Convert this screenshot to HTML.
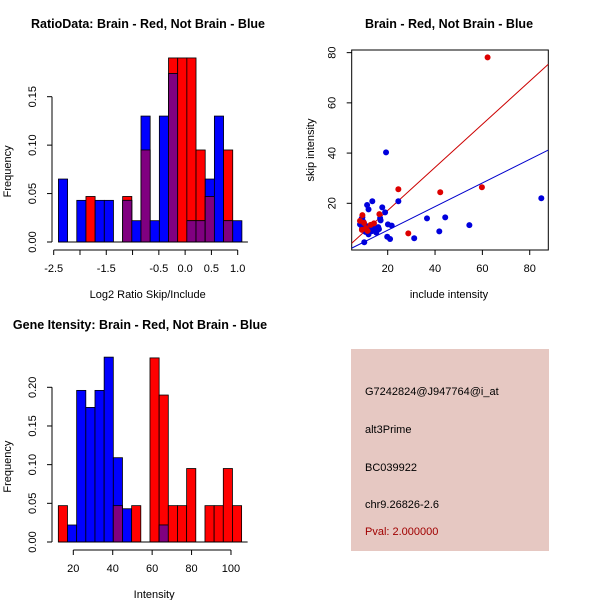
<!DOCTYPE html>
<html><head><meta charset="utf-8"><style>
html,body{margin:0;padding:0;background:#fff;}
svg{display:block;font-family:"Liberation Sans",sans-serif;}
</style></head><body>
<svg id="chart" width="600" height="600" viewBox="0 0 600 600" xmlns="http://www.w3.org/2000/svg">
<rect x="0" y="0" width="600" height="600" fill="#fff"/>
<text x="148" y="28" text-anchor="middle" font-size="12.5" font-weight="bold">RatioData: Brain - Red, Not Brain - Blue</text>
<text x="449" y="28" text-anchor="middle" font-size="12.5" font-weight="bold">Brain - Red, Not Brain - Blue</text>
<text x="140" y="329" text-anchor="middle" font-size="12.5" font-weight="bold">Gene Itensity: Brain - Red, Not Brain - Blue</text>
<g id="g1"></g>
<g id="g2"></g>
<g id="g3"></g>
<g>
<rect x="351" y="349" width="198" height="202" fill="#e6c8c2"/>
<text x="365" y="395" font-size="11">G7242824@J947764@i_at</text>
<text x="365" y="433" font-size="11">alt3Prime</text>
<text x="365" y="471" font-size="11">BC039922</text>
<text x="365" y="508" font-size="11">chr9.26826-2.6</text>
<text x="365" y="535" font-size="11" fill="#a00000">Pval: 2.000000</text>
</g>
</svg>
<script>
// ---- Ratio histogram data ----
const ratioBinStart = -2.41;
const ratioBinWidth = 0.1745;
const ratioBlue = [0.065,0,0.043,0,0.043,0.043,0,0.043,0.022,0.13,0.022,0.13,0.174,0,0.022,0.022,0.065,0.13,0.022,0.022];
const ratioRed  = [0,0,0,0.047,0,0,0,0.047,0,0.095,0,0,0.19,0.19,0.19,0.095,0.047,0,0.095,0];
const ratioXTicks = [-2.5,-2.0,-1.5,-1.0,-0.5,0.0,0.5,1.0];
const ratioXLabels = ["-2.5","","-1.5","","-0.5","0.0","0.5","1.0"];
const ratioYTicks = [0,0.05,0.10,0.15];
const ratioYLabels = ["0.00","0.05","0.10","0.15"];
// ---- Intensity histogram data ----
const intBinStart = 12.4;
const intBinWidth = 4.65;
const intBlue = [0,0.022,0.196,0.174,0.196,0.239,0.109,0.043,0,0,0,0.022,0,0,0,0,0,0,0,0];
const intRed  = [0.047,0,0,0,0,0,0.047,0,0.047,0,0.238,0.19,0.047,0.047,0.095,0,0.047,0.047,0.095,0.047];
const intXTicks = [20,40,60,80,100];
const intYTicks = [0,0.05,0.10,0.15,0.20];
const intYLabels = ["0.00","0.05","0.10","0.15","0.20"];
// ---- Scatter data ----
const redX = [62.2,24.5,42.2,59.8,28.7,16.5,9.3,12.8,9.1,10.8,14.2,10.0,8.3,11.5];
const redY = [78.1,25.6,24.4,26.4,8.0,15.7,15.3,11.4,9.4,10.1,12.0,12.2,13.0,9.0];
const blueX = [19.3,84.9,24.5,13.5,11.3,11.9,17.7,18.9,36.6,44.3,54.5,41.8,31.2,20.1,21.7,21.0,19.8,10.1,8.3,9.0,9.3,9.7,11.1,11.9,13.3,14.2,15.2,16.3,17.0,16.0,13.7,12.3,16.8,9.2,10.6];
const blueY = [40.3,22.0,20.8,20.8,19.3,17.6,18.4,16.4,14.0,14.4,11.3,8.8,6.1,11.6,11.1,5.8,6.7,4.5,11.6,13.9,14.4,12.7,10.9,7.6,8.9,9.7,8.3,9.7,13.2,10.5,11.0,10.1,14.1,10.1,8.6];
const scXTicks = [20,40,60,80];
const scYTicks = [20,40,60,80];
const redSlope = 0.858, redIntercept = 0.0;
const blueSlope = 0.47, blueIntercept = -0.1;

const NS = "http://www.w3.org/2000/svg";
function mk(parent, tag, attrs, text){
  const e = document.createElementNS(NS, tag);
  for (const k in attrs) e.setAttribute(k, attrs[k]);
  if (text !== undefined) e.textContent = text;
  parent.appendChild(e);
  return e;
}

function histogram(g, o){
  const sx = v => o.x0 + (v - o.xv0) * o.kx;
  const sy = v => o.y0 - v * o.ky;
  const n = o.blue.length;
  for (let i = 0; i < n; i++){
    const a = sx(o.start + i*o.width), b = sx(o.start + (i+1)*o.width);
    const bl = o.blue[i], rd = o.red[i];
    if (rd > 0){
      const r = mk(g,'rect',{x:a,y:sy(rd),width:b-a,height:sy(0)-sy(rd),fill:'#ff0000',stroke:'#000','stroke-width':0.8});
      
      
    }
    if (bl > 0){
      const r = mk(g,'rect',{x:a,y:sy(bl),width:b-a,height:sy(0)-sy(bl),fill:'#0000ff',stroke:'#000','stroke-width':0.8});
      
      
    }
    if (bl > 0 && rd > 0){
      const m = Math.min(bl, rd);
      const r = mk(g,'rect',{x:a,y:sy(m),width:b-a,height:sy(0)-sy(m),fill:'#800080',stroke:'#000','stroke-width':0.8});
      
      
    }
  }
  const ax1 = sx(o.start), ax2 = sx(o.start + n*o.width);
  const base = mk(g,'line',{x1:ax1,y1:o.y0,x2:ax2+6,y2:o.y0,stroke:'#000','stroke-width':1});
  
  
  // x axis
  const xa = o.y0 + 8;
  const xl = mk(g,'line',{x1:sx(o.xticks[0]),y1:xa,x2:sx(o.xticks[o.xticks.length-1]),y2:xa,stroke:'#000'});
  
  
  o.xticks.forEach((t,i)=>{
    mk(g,'line',{x1:sx(t),y1:xa,x2:sx(t),y2:xa+5,stroke:'#000'});
    const lbl = o.xlabels ? o.xlabels[i] : String(t);
    if (lbl){
      const tx = mk(g,'text',{x:sx(t),y:xa+22,'text-anchor':'middle','font-size':11},lbl);
      
      
    }
  });
  // y axis
  const ya = o.yaxis;
  const yl = mk(g,'line',{x1:ya,y1:sy(o.yticks[0]),x2:ya,y2:sy(o.yticks[o.yticks.length-1]),stroke:'#000'});
  
  
  o.yticks.forEach((t,i)=>{
    mk(g,'line',{x1:ya-5,y1:sy(t),x2:ya,y2:sy(t),stroke:'#000'});
    const tx = mk(g,'text',{x:0,y:0,'text-anchor':'middle','font-size':11,transform:`translate(${ya-16},${sy(t)}) rotate(-90)`},o.ylabels[i]);
    
    
  });
  const xt = mk(g,'text',{x:(sx(o.xticks[0])+sx(o.xticks[o.xticks.length-1]))/2+2,y:o.y0+56,'text-anchor':'middle','font-size':11},o.xtitle);
  
  
  const yt = mk(g,'text',{x:0,y:0,'text-anchor':'middle','font-size':11,transform:`translate(11,${(o.y0+sy(o.yticks[o.yticks.length-1]))/2+2}) rotate(-90)`},'Frequency');
  
  
}

histogram(document.getElementById('g1'),{
  blue:ratioBlue, red:ratioRed, start:ratioBinStart, width:ratioBinWidth,
  x0:53.7, xv0:-2.5, kx:52.57, y0:242, ky:968.7, yaxis:52,
  xticks:ratioXTicks, xlabels:ratioXLabels, yticks:ratioYTicks, ylabels:ratioYLabels,
  xtitle:'Log2 Ratio Skip/Include'
});
histogram(document.getElementById('g3'),{
  blue:intBlue, red:intRed, start:intBinStart, width:intBinWidth,
  x0:73.3, xv0:20, kx:1.971, y0:542, ky:773.5, yaxis:52,
  xticks:intXTicks, xlabels:null, yticks:intYTicks, ylabels:intYLabels,
  xtitle:'Intensity'
});

// scatter
(function(){
  const g = document.getElementById('g2');
  const L=351.7,R=548.3,T=50,B=250;
  const sx = v => 387.7 + (v-20)*2.367;
  const sy = v => 203.3 - (v-20)*2.511;
  const xmin = 20 + (L-387.7)/2.367, xmax = 20 + (R-387.7)/2.367;
  const cp = mk(g,'clipPath',{id:'scclip'});
  mk(cp,'rect',{x:L,y:T,width:R-L,height:B-T});
  const box = mk(g,'rect',{x:L,y:T,width:R-L,height:B-T,fill:'none',stroke:'#000'});
  
  
  const lines = mk(g,'g',{'clip-path':'url(#scclip)'});
  const rl = mk(lines,'line',{x1:sx(xmin),y1:sy(redIntercept+redSlope*xmin),x2:sx(xmax),y2:sy(redIntercept+redSlope*xmax),stroke:'#cc0000','stroke-width':1});
  
  
  const bl = mk(lines,'line',{x1:sx(xmin),y1:sy(blueIntercept+blueSlope*xmin),x2:sx(xmax),y2:sy(blueIntercept+blueSlope*xmax),stroke:'#0000cc','stroke-width':1});
  
  
  blueX.forEach((x,i)=>{
    const c = mk(g,'circle',{cx:sx(x),cy:sy(blueY[i]),r:3,fill:'#0000dd'});
    
    
  });
  redX.forEach((x,i)=>{
    const c = mk(g,'circle',{cx:sx(x),cy:sy(redY[i]),r:3,fill:'#dd0000'});
    
    
  });
  scXTicks.forEach(t=>{
    mk(g,'line',{x1:sx(t),y1:B,x2:sx(t),y2:B+5,stroke:'#000'});
    const tx = mk(g,'text',{x:sx(t),y:B+22,'text-anchor':'middle','font-size':11},String(t));
    
    
  });
  scYTicks.forEach(t=>{
    mk(g,'line',{x1:L-5,y1:sy(t),x2:L,y2:sy(t),stroke:'#000'});
    const tx = mk(g,'text',{x:0,y:0,'text-anchor':'middle','font-size':11,transform:`translate(${L-16},${sy(t)}) rotate(-90)`},String(t));
    
    
  });
  const xt = mk(g,'text',{x:449,y:298,'text-anchor':'middle','font-size':11},'include intensity');
  
  
  const yt = mk(g,'text',{x:0,y:0,'text-anchor':'middle','font-size':11,transform:'translate(314,150) rotate(-90)'},'skip intensity');
  
  
})();
</script>
</body></html>
